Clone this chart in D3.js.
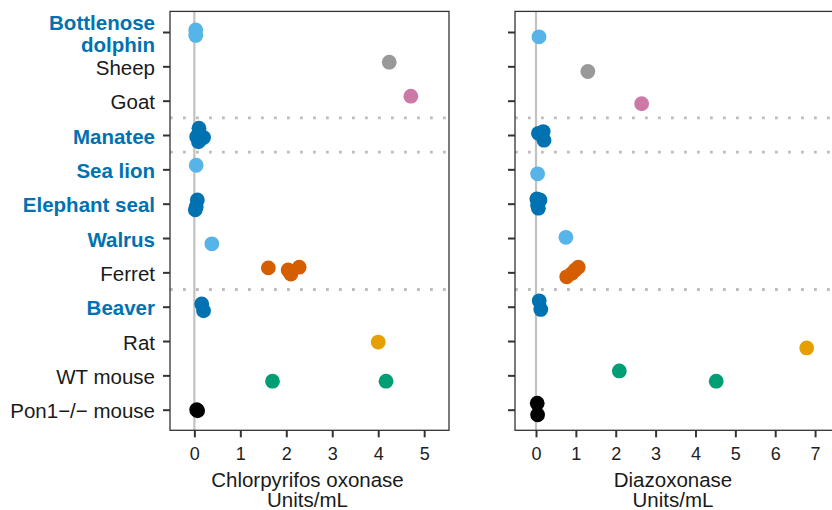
<!DOCTYPE html>
<html><head><meta charset="utf-8">
<script src="https://cdn.jsdelivr.net/npm/d3@7"></script>
<style>body{margin:0;background:#fff}svg{display:block;font-family:"Liberation Sans",Arial,sans-serif}</style>
</head><body><svg id="c" width="832" height="510"></svg>
<script>
const species = ["Bottlenose dolphin","Sheep","Goat","Manatee","Sea lion","Elephant seal","Walrus","Ferret","Beaver","Rat","WT mouse","Pon1\u2212/\u2212 mouse"];
const marineSpecies = ["Bottlenose dolphin","Manatee","Sea lion","Elephant seal","Walrus","Beaver"];
const separatorsAfter = ["Goat","Manatee","Ferret"];
const palette = ["#56B4E9","#999999","#CC79A7","#0072B2","#56B4E9","#0072B2","#56B4E9","#D55E00","#0072B2","#E69F00","#009E73","#000000"];

const cpoSpecies = ["Bottlenose dolphin","Bottlenose dolphin","Sheep","Goat","Manatee","Manatee","Manatee","Manatee","Sea lion","Elephant seal","Elephant seal","Elephant seal","Walrus","Ferret","Ferret","Ferret","Ferret","Beaver","Beaver","Rat","WT mouse","WT mouse","Pon1\u2212/\u2212 mouse","Pon1\u2212/\u2212 mouse"];
const cpoValues = [0.03,0.03,4.24,4.71,0.10,0.05,0.20,0.09,0.04,0.065,0.04,0.02,0.38,1.61,2.04,2.10,2.28,0.16,0.20,4.00,1.70,4.17,0.05,0.07];
const cpoJitter = [-0.06,0.10,-0.12,-0.13,-0.20,0.05,0.07,0.20,-0.12,-0.11,0.09,0.18,0.17,-0.13,-0.07,0.05,-0.15,-0.08,0.12,0.03,0.17,0.17,0.00,0.03];

const dzoSpecies = ["Bottlenose dolphin","Sheep","Goat","Manatee","Manatee","Manatee","Sea lion","Elephant seal","Elephant seal","Elephant seal","Elephant seal","Walrus","Ferret","Ferret","Ferret","Ferret","Beaver","Beaver","Rat","WT mouse","WT mouse","Pon1\u2212/\u2212 mouse","Pon1\u2212/\u2212 mouse"];
const dzoValues = [0.075,1.30,2.65,0.06,0.18,0.20,0.04,0.02,0.10,0.06,0.04,0.75,0.77,0.90,0.98,1.06,0.08,0.12,6.79,2.09,4.52,0.03,0.04];
const dzoJitter = [0.14,0.15,0.09,-0.05,-0.10,0.15,0.13,-0.14,-0.11,0.13,0.05,-0.02,0.13,0.03,-0.07,-0.15,-0.17,0.08,0.20,-0.13,0.17,-0.19,0.15];

const cpoTicks = [0,1,2,3,4,5];
const dzoTicks = [0,1,2,3,4,5,6,7];
const titles = [["Chlorpyrifos oxonase","Units/mL"],["Diazoxonase","Units/mL"]];

const FS = 20.5, TFS = 18;
const svg = d3.select("#c");
const yTop = 11.4, yBottom = 430.3;
const y = d3.scalePoint().domain(species).range([yTop, yBottom]).padding(0.6);
const color = d3.scaleOrdinal(species, palette);

const panels = [
  {x: d3.scaleLinear().domain([-0.53, 5.54]).range([170, 449]), sp: cpoSpecies, v: cpoValues, j: cpoJitter, ticks: cpoTicks, title: titles[0], labels: true},
  {x: d3.scaleLinear().domain([-0.527, 7.5]).range([515, 835]), sp: dzoSpecies, v: dzoValues, j: dzoJitter, ticks: dzoTicks, title: titles[1], labels: false}
];

panels.forEach(p => {
  const [x0, x1] = p.x.range();
  const g = svg.append("g");
  g.append("line").attr("x1", p.x(0)).attr("x2", p.x(0)).attr("y1", yTop).attr("y2", yBottom)
    .attr("stroke", "#c2c2c2").attr("stroke-width", 2.2);
  separatorsAfter.forEach(s => {
    const yy = y(s) + y.step() / 2;
    g.append("line").attr("x1", x0).attr("x2", x1).attr("y1", yy).attr("y2", yy)
      .attr("stroke", "#bdbdbd").attr("stroke-width", 2.8).attr("stroke-dasharray", "2.8 10.2");
  });
  g.selectAll("circle.pt").data(p.v.map((v, i) => ({v, s: p.sp[i], j: p.j[i]}))).join("circle")
    .attr("class", "pt")
    .attr("cx", d => p.x(d.v)).attr("cy", d => y(d.s) + d.j * y.step())
    .attr("r", 7.4).attr("fill", d => color(d.s));
  g.append("rect").attr("x", x0).attr("y", yTop).attr("width", x1 - x0).attr("height", yBottom - yTop)
    .attr("fill", "none").attr("stroke", "#333").attr("stroke-width", 1.3);
  const ya = g.append("g").attr("transform", `translate(${x0},0)`)
    .call(d3.axisLeft(y).tickSize(7).tickPadding(8));
  ya.select(".domain").remove();
  ya.selectAll(".tick line").attr("stroke", "#333").attr("stroke-width", 2);
  ya.selectAll(".tick text").remove();
  if (p.labels) {
    species.forEach(s => {
      const bold = marineSpecies.includes(s);
      const t = g.append("text").attr("x", x0 - 15).attr("text-anchor", "end")
        .attr("font-size", FS).attr("font-weight", bold ? "bold" : "normal")
        .attr("fill", bold ? "#0072B2" : "#1a1a1a");
      const words = s === "Bottlenose dolphin" ? ["Bottlenose", "dolphin"] : [s];
      if (words.length === 2) {
        t.append("tspan").attr("x", x0 - 15).attr("y", y(s) - 2).text(words[0]);
        t.append("tspan").attr("x", x0 - 15).attr("y", y(s) + 20).text(words[1]);
      } else {
        t.attr("y", y(s) + 8.5).text(s);
      }
    });
  }
  const xa = g.append("g").attr("transform", `translate(0,${yBottom})`)
    .call(d3.axisBottom(p.x).tickValues(p.ticks).tickFormat(d3.format("d")).tickSize(7).tickPadding(10));
  xa.select(".domain").remove();
  xa.selectAll(".tick line").attr("stroke", "#333").attr("stroke-width", 2);
  xa.selectAll(".tick text").attr("font-size", TFS).attr("fill", "#222").attr("font-family", "Liberation Sans, Arial, sans-serif");
  const cx = (x0 + x1) / 2;
  const tt = g.append("text").attr("text-anchor", "middle").attr("font-size", FS).attr("fill", "#1a1a1a");
  tt.append("tspan").attr("x", cx - 2).attr("y", 487).text(p.title[0]);
  tt.append("tspan").attr("x", cx - 2).attr("y", 507).text(p.title[1]);
});
</script></body></html>
